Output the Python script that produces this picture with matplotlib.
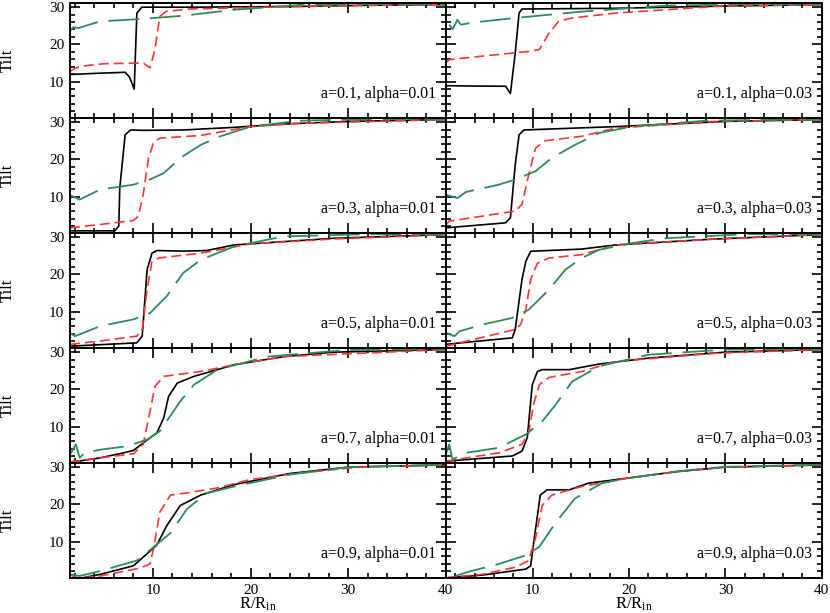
import matplotlib
matplotlib.use("Agg")
import matplotlib.pyplot as plt
from matplotlib.ticker import MultipleLocator

plt.rcParams['font.family'] = ['Liberation Serif', 'DejaVu Serif']
plt.rcParams['mathtext.fontset'] = 'custom'
plt.rcParams['mathtext.rm'] = 'Liberation Serif'
plt.rcParams['mathtext.it'] = 'Liberation Serif:italic'

# ---- data: R/R_in and tilt for each panel ----
# row 1, a=0.1
r11_k = [1.5, 4.0, 7.15, 7.6, 8.08, 8.35, 8.86, 15, 25, 32, 40]
t11_k = [11.9, 12.2, 12.5, 11.2, 8.0, 28.4, 30.0, 30.0, 30.2, 30.5, 30.7]
r11_r = [1.5, 2.5, 5, 9.0, 9.7, 10.2, 10.7, 11.3, 13.5, 21.7, 30, 40]
t11_r = [12.8, 14.1, 14.8, 15.0, 13.7, 18.6, 27.5, 28.8, 29.5, 30.0, 30.4, 30.7]
r11_g = [1.5, 1.85, 2.4, 4.6, 8.7, 13.1, 18.3, 25, 32, 40]
t11_g = [23.5, 24.6, 24.4, 26.2, 26.8, 27.7, 29.3, 30.6, 30.8, 30.8]

r12_k = [1, 4, 7.2, 7.7, 8.2, 8.6, 8.9, 18.6, 30, 40]
t12_k = [8.9, 8.8, 8.75, 6.8, 17.7, 28.4, 29.5, 29.7, 30.3, 30.7]
r12_r = [1, 1.35, 5, 9.6, 10.7, 11.7, 12.7, 14.1, 18.6, 28.9, 40]
t12_r = [15.0, 15.9, 16.9, 18.1, 18.6, 23.0, 26.2, 27.1, 28.4, 30.2, 30.7]
r12_g = [1.35, 1.7, 2.2, 2.55, 3.9, 8.2, 15.1, 23.8, 32, 40]
t12_g = [25.3, 24.1, 26.6, 25.3, 25.9, 27.1, 28.8, 30.4, 30.8, 30.8]

# row 2, a=0.3
r21_k = [1.5, 6.1, 6.5, 6.6, 7.15, 7.7, 9, 13.1, 18.3, 23.4, 30, 40]
t21_k = [0.8, 0.8, 2.1, 12.3, 26.6, 27.9, 27.8, 27.9, 28.6, 29.5, 30.2, 30.7]
r21_r = [1.5, 4.6, 8.0, 8.5, 9.0, 9.55, 10.1, 10.7, 14.8, 20, 25, 40]
t21_r = [1.6, 2.5, 3.6, 4.7, 10.5, 20.4, 24.8, 25.7, 26.4, 28.8, 29.7, 30.7]
r21_g = [1.5, 2.5, 4.6, 8.0, 9.7, 11.1, 12.8, 14.9, 16.9, 20, 25, 32, 40]
t21_g = [10.4, 9.2, 11.9, 13.2, 14.6, 16.3, 20.4, 23.9, 26.2, 28.8, 30.4, 30.8, 30.8]

r22_k = [1, 7.2, 7.7, 8.2, 8.6, 9.1, 18.6, 30, 40]
t22_k = [1.6, 2.95, 4.3, 18.6, 26.6, 27.9, 28.8, 30.2, 30.7]
r22_r = [1, 1.35, 8.2, 8.9, 9.6, 10.3, 11.3, 15.1, 18.6, 28.9, 40]
t22_r = [2.5, 3.4, 6.1, 7.9, 15.9, 23.0, 25.0, 26.2, 28.4, 30.2, 30.7]
r22_g = [1, 2.2, 3.1, 6.5, 8.2, 10.3, 12.0, 14.4, 16.9, 20.3, 28, 40]
t22_g = [10.5, 9.6, 11.25, 13.2, 14.6, 16.8, 20.4, 23.9, 27.1, 28.8, 30.4, 30.8]

# row 3, a=0.5
r31_k = [1.5, 8.35, 8.9, 9.4, 9.9, 10.4, 13.1, 15.5, 18.3, 23.4, 28.5, 40]
t31_k = [0.7, 1.6, 3.4, 21.25, 25.7, 26.4, 26.25, 26.4, 27.9, 28.8, 29.7, 30.7]
r31_r = [1.5, 4.6, 8.35, 8.9, 9.4, 9.9, 10.6, 14.9, 20, 28.5, 40]
t31_r = [1.2, 2.1, 3.4, 5.2, 15.9, 23.5, 24.4, 25.7, 28.2, 29.5, 30.7]
r31_g = [1.5, 2.0, 2.9, 4.6, 8.0, 9.7, 11.4, 13.1, 14.9, 18.3, 23.4, 32, 40]
t31_g = [4.3, 3.4, 4.3, 6.1, 7.9, 9.6, 14.1, 20.4, 23.9, 27.5, 30.2, 30.8, 30.8]

r32_k = [1, 7.9, 8.2, 8.9, 9.3, 9.8, 15.1, 18.6, 28.9, 40]
t32_k = [1.2, 2.95, 5.2, 18.6, 23.5, 26.2, 26.8, 27.9, 29.5, 30.7]
r32_r = [1, 8.2, 8.75, 9.3, 9.8, 10.5, 11.7, 15.1, 18.6, 28.9, 40]
t32_r = [0.7, 5.2, 6.5, 10.5, 18.6, 23.0, 24.4, 25.3, 27.9, 29.5, 30.7]
r32_g = [1, 1.9, 2.4, 4.8, 7.9, 9.6, 11.7, 13.4, 15.1, 16.9, 20.3, 23.8, 32, 40]
t32_g = [4.3, 3.4, 4.7, 6.5, 8.3, 10.5, 15.9, 21.25, 24.4, 26.6, 28.4, 29.7, 30.8, 30.8]

# row 4, a=0.7
r41_k = [1.5, 2.35, 4.6, 7.0, 8.0, 9.0, 10.4, 11.1, 11.6, 12.5, 14.2, 18.3, 23.4, 28.5, 40]
t41_k = [0.5, 0.7, 1.6, 2.95, 3.6, 5.6, 8.3, 12.3, 18.1, 21.7, 23.5, 26.6, 28.8, 30.0, 30.7]
r41_r = [1.5, 4.6, 8.0, 9.0, 9.7, 10.2, 11.1, 14.9, 18.3, 23.4, 40]
t41_r = [0.5, 1.6, 2.7, 5.2, 14.1, 20.8, 23.5, 24.8, 26.6, 28.8, 30.7]
r41_g = [1.5, 2.1, 2.5, 3.0, 4.6, 7.3, 9.4, 10.7, 12.8, 14.2, 16.6, 21.7, 30, 40]
t41_g = [2.5, 5.2, 1.6, 2.95, 3.8, 4.7, 6.5, 8.75, 16.8, 21.25, 25.3, 28.8, 30.6, 30.8]

r42_k = [1, 7.9, 8.9, 9.45, 9.97, 10.5, 11.0, 13.8, 16.9, 22, 30, 40]
t42_k = [0.7, 2.1, 3.4, 7.0, 21.25, 24.8, 25.3, 25.3, 26.8, 28.4, 30.0, 30.7]
r42_r = [1, 6.5, 8.9, 9.6, 10.1, 10.7, 11.7, 15.1, 18.6, 28.9, 40]
t42_r = [0.7, 2.95, 5.2, 8.3, 15.9, 21.25, 23.2, 24.8, 27.5, 29.7, 30.7]
r42_g = [1, 1.35, 1.7, 3.1, 6.5, 9.3, 11.0, 12.4, 14.1, 16.9, 22, 30, 40]
t42_g = [2.5, 5.2, 1.2, 2.95, 4.3, 7.9, 11.4, 15.9, 22.1, 26.2, 29.3, 30.7, 30.8]

# row 5, a=0.9
r51_k = [1.5, 2.5, 4.6, 8.0, 9.4, 10.4, 11.4, 12.8, 14.9, 18.3, 24, 30, 40]
t51_k = [0.3, 0.1, 1.2, 3.5, 6.75, 9.1, 14.2, 19.7, 22.5, 25.3, 28.3, 30.0, 30.6]
r51_r = [1.5, 2.2, 4.6, 8.7, 9.7, 10.1, 10.7, 11.8, 13.5, 16.6, 20, 25, 31, 40]
t51_r = [1.2, 0.1, 0.75, 2.9, 4.0, 8.6, 17.9, 22.5, 23.1, 24.4, 26.7, 28.4, 30.0, 30.6]
r51_g = [1.5, 2.5, 4.6, 8.35, 10.1, 11.8, 13.5, 15.5, 18.3, 24, 30, 40]
t51_g = [1.2, 0.75, 2.1, 4.9, 8.6, 12.3, 18.8, 23.0, 24.8, 28.0, 30.0, 30.7]

r52_k = [1.35, 4.8, 9.3, 9.8, 10.3, 10.8, 11.5, 13.8, 15.8, 20, 25, 30, 40]
t52_k = [0.3, 1.0, 2.6, 3.5, 13.2, 22.5, 23.9, 23.9, 25.7, 27.1, 28.8, 30.0, 30.6]
r52_r = [1, 4.8, 8.2, 9.6, 10.3, 11.0, 12.0, 15.1, 20, 25, 30, 40]
t52_r = [0.3, 1.2, 3.1, 4.9, 10.9, 19.7, 22.5, 24.8, 27.1, 28.8, 30.0, 30.6]
r52_g = [2.0, 3.1, 6.5, 9.3, 10.7, 12.4, 14.4, 17.2, 20, 25, 30, 40]
t52_g = [0.75, 1.7, 4.0, 6.3, 8.6, 15.1, 21.6, 25.7, 27.1, 28.9, 30.1, 30.7]

spins = ["0.1", "0.3", "0.5", "0.7", "0.9"]
alphas = ["0.01", "0.03"]

panels = [
    [[(r11_k, t11_k), (r11_r, t11_r), (r11_g, t11_g)],
     [(r12_k, t12_k), (r12_r, t12_r), (r12_g, t12_g)]],
    [[(r21_k, t21_k), (r21_r, t21_r), (r21_g, t21_g)],
     [(r22_k, t22_k), (r22_r, t22_r), (r22_g, t22_g)]],
    [[(r31_k, t31_k), (r31_r, t31_r), (r31_g, t31_g)],
     [(r32_k, t32_k), (r32_r, t32_r), (r32_g, t32_g)]],
    [[(r41_k, t41_k), (r41_r, t41_r), (r41_g, t41_g)],
     [(r42_k, t42_k), (r42_r, t42_r), (r42_g, t42_g)]],
    [[(r51_k, t51_k), (r51_r, t51_r), (r51_g, t51_g)],
     [(r52_k, t52_k), (r52_r, t52_r), (r52_g, t52_g)]],
]

styles = [
    dict(color="black", lw=1.2, ls="-"),
    dict(color="#ff3333", lw=1.2, dashes=(6, 3)),
    dict(color="#2e8b57", lw=1.3, dashes=(17, 6)),
]

fig, axes = plt.subplots(5, 2, figsize=(8.3, 6.13), dpi=100)
fig.subplots_adjust(left=0.0843, right=0.990, top=0.995, bottom=0.057,
                    wspace=0, hspace=0)

for i in range(5):
    for j in range(2):
        ax = axes[i, j]
        for (rr, tt), st in zip(panels[i][j], styles):
            ax.plot(rr, tt, **st)
        ax.set_xlim(1.5 if j == 0 else 1.0, 40)
        ax.set_ylim(0.2, 31.1)
        ax.xaxis.set_major_locator(MultipleLocator(10))
        ax.xaxis.set_minor_locator(MultipleLocator(2))
        ax.yaxis.set_major_locator(MultipleLocator(10))
        ax.yaxis.set_minor_locator(MultipleLocator(2))
        ax.tick_params(which="both", direction="in", top=True, right=True,
                       width=1.2, labelsize=11)
        ax.tick_params(which="major", length=7, pad=4)
        ax.tick_params(which="minor", length=3.5)
        for s in ax.spines.values():
            s.set_linewidth(1.4)
        ax.text(0.975, 0.21, "a=%s, alpha=%s" % (spins[i], alphas[j]),
                transform=ax.transAxes, ha="right", va="center", fontsize=11.5)
        if j == 0:
            ax.set_ylabel("Tilt", fontsize=12)
            ax.yaxis.set_label_coords(-0.145, 0.5)
        else:
            ax.tick_params(labelleft=False)
        if i == 4:
            ax.set_xlabel(r"R/R$_{\rm in}$", fontsize=12)
            ax.xaxis.set_label_coords(0.5, -0.15)
        else:
            ax.tick_params(labelbottom=False)

fig.savefig("out.png", dpi=100)
